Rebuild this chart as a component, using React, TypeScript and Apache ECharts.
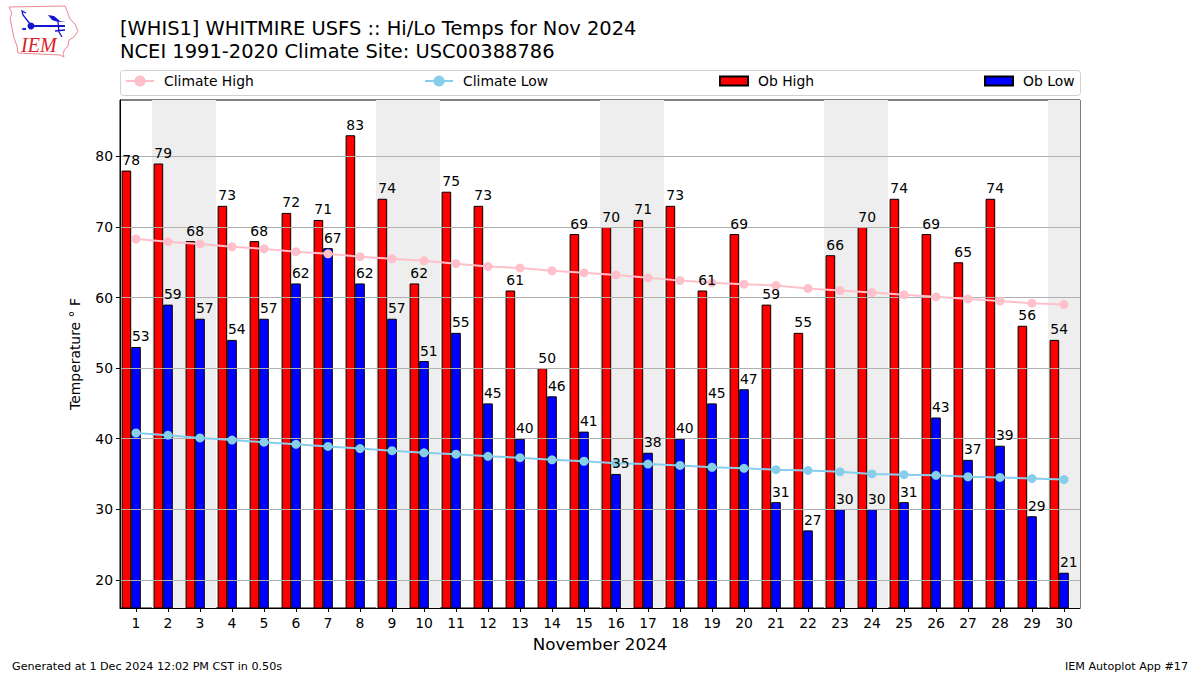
import React, { useEffect, useRef } from "react";
import * as echarts from "echarts";

const days = ["1","2","3","4","5","6","7","8","9","10","11","12","13","14","15","16","17","18","19","20","21","22","23","24","25","26","27","28","29","30"];
const obHigh = [78,79,68,73,68,72,71,83,74,62,75,73,61,50,69,70,71,73,61,69,59,55,66,70,74,69,65,74,56,54];
const obLow = [53,59,57,54,57,62,67,62,57,51,55,45,40,46,41,35,38,40,45,47,31,27,30,30,31,43,37,39,29,21];
const climateHigh = [68.3,67.9,67.6,67.2,66.9,66.5,66.2,65.8,65.5,65.2,64.8,64.4,64.2,63.8,63.5,63.2,62.8,62.4,62.1,61.9,61.7,61.3,61.0,60.7,60.4,60.1,59.8,59.5,59.2,59.0];
const climateLow = [40.8,40.5,40.1,39.8,39.5,39.2,38.9,38.6,38.3,38.0,37.8,37.5,37.3,37.0,36.8,36.5,36.4,36.2,35.95,35.8,35.6,35.5,35.3,35.0,34.9,34.8,34.6,34.5,34.35,34.2];
const weekendDays = [2,3,9,10,16,17,23,24,30];
const yTicks = [20,30,40,50,60,70,80];
const titleText = "[WHIS1] WHITMIRE USFS :: Hi/Lo Temps for Nov 2024\nNCEI 1991-2020 Climate Site: USC00388786";

const FONT = "DejaVu Sans";
const INK = "#000";

const iowa = [[9,7],[65,6],[67,11],[70,19],[75,24],[78,31],[74,37],[69,40],[68,46],[65,49],[63,53],[64,57],[60,55],[18,53],[17,46],[14,38],[12,28],[10,18],[12,13]];
const logo = [
  { type: "polyline", shape: { points: iowa.concat([iowa[0]]) }, style: { stroke: "#e58a92", lineWidth: 1, fill: "none" } },
  { type: "polyline", shape: { points: [[31,26],[65,26]] }, style: { stroke: "#1515d0", lineWidth: 2, fill: "none" } },
  { type: "circle", shape: { cx: 31, cy: 26, r: 3.5 }, style: { fill: "#1515d0" } },
  { type: "polyline", shape: { points: [[30,24],[23,15],[22,11],[26,13]] }, style: { stroke: "#1515d0", lineWidth: 1.3, fill: "none" } },
  { type: "polygon", shape: { points: [[48,15],[54,16],[60,21],[66,21],[58,22],[52,20]] }, style: { fill: "#1515d0" } },
  { type: "polyline", shape: { points: [[58,22],[59,32],[62,37]] }, style: { stroke: "#1515d0", lineWidth: 1.3, fill: "none" } },
  { type: "polyline", shape: { points: [[55,31],[65,30]] }, style: { stroke: "#1515d0", lineWidth: 1.3, fill: "none" } },
  { type: "circle", shape: { cx: 25, cy: 29, r: 1.2 }, style: { fill: "#1515d0" } },
  { type: "circle", shape: { cx: 23, cy: 29, r: 1 }, style: { fill: "#1515d0" } },
  { type: "text", x: 21, y: 35, style: { text: "IEM", fill: "#d8232a", fontFamily: "Liberation Serif", fontStyle: "italic", fontSize: 20 } },
];

export default function App() {
  const ref = useRef<HTMLDivElement>(null);
  useEffect(() => {
    const chart = echarts.init(ref.current!, undefined, { renderer: "svg" });
    const legendText = { fontFamily: FONT, fontSize: 13.9, color: INK, padding: [0, 0, 0, 5] };
    const numberLabel = (offsetX: number) => ({
      show: true,
      position: "top",
      distance: 0,
      offset: [offsetX, -3],
      color: INK,
      opacity: 1,
      fontFamily: FONT,
      fontSize: 13.9,
    });
    chart.setOption({
      animation: false,
      backgroundColor: "#fff",
      title: {
        text: titleText,
        left: 120,
        top: 17.5,
        padding: 0,
        textStyle: { fontFamily: FONT, fontSize: 19.45, fontWeight: "normal", color: INK, lineHeight: 22.5 },
      },
      grid: { left: 120, right: 120, top: 100, bottom: 67, show: true, borderColor: INK, borderWidth: 1, backgroundColor: "#fff" },
      legend: [
        { data: ["Climate High"], left: 125, top: 74, padding: 0, itemWidth: 28, itemHeight: 14, textStyle: legendText },
        { data: ["Climate Low"], left: 424, top: 74, padding: 0, itemWidth: 28, itemHeight: 14, textStyle: legendText },
        { data: [{ name: "Ob High", icon: "rect" }], left: 719, top: 74, padding: 0, itemWidth: 28, itemHeight: 9, textStyle: legendText },
        { data: [{ name: "Ob Low", icon: "rect" }], left: 984, top: 74, padding: 0, itemWidth: 28, itemHeight: 9, textStyle: legendText },
      ],
      xAxis: [
        {
          type: "category",
          data: days,
          name: "November 2024",
          nameLocation: "middle",
          nameGap: 27,
          nameTextStyle: { fontFamily: FONT, fontSize: 16.7, color: INK },
          axisLine: { show: true, lineStyle: { color: INK, width: 1 } },
          axisTick: { show: true, alignWithLabel: true, length: 4, lineStyle: { color: INK } },
          axisLabel: { color: INK, fontFamily: FONT, fontSize: 13.9, margin: 8, interval: 0 },
          splitLine: { show: false },
        },
        { type: "value", min: 0.5, max: 30.5, show: false },
      ],
      yAxis: {
        type: "value",
        min: 16,
        max: 88,
        z: 3,
        name: "Temperature ° F",
        nameLocation: "middle",
        nameGap: 38,
        nameTextStyle: { fontFamily: FONT, fontSize: 13.9, color: INK },
        axisLine: { show: true, lineStyle: { color: INK, width: 1 } },
        axisTick: { show: true, length: 4, lineStyle: { color: INK }, customValues: yTicks },
        axisLabel: { color: INK, fontFamily: FONT, fontSize: 13.9, margin: 7, customValues: yTicks },
        splitLine: { show: true, lineStyle: { color: "#b0b0b0", width: 1 } },
      },
      graphic: [
        { type: "rect", z: 0, shape: { x: 120.5, y: 70.5, width: 960, height: 25, r: 3 }, style: { fill: "#fff", stroke: "#d0d0d0", lineWidth: 1 } },
        { type: "group", x: 0, y: 0, children: logo },
        { type: "text", x: 12, y: 661, style: { text: "Generated at 1 Dec 2024 12:02 PM CST in 0.50s", fontFamily: FONT, fontSize: 11.15, fill: INK } },
        { type: "text", x: 1188, y: 661, style: { text: "IEM Autoplot App #17", fontFamily: FONT, fontSize: 11.15, fill: INK, align: "right" } },
      ],
      series: [
        {
          type: "custom",
          name: "weekend",
          xAxisIndex: 1,
          z: 1,
          silent: true,
          data: weekendDays.map((d) => [d]),
          encode: { x: 0 },
          clip: true,
          renderItem: (params: any, api: any) => {
            const d = api.value(0);
            const a = api.coord([d - 0.5, 88]);
            const b = api.coord([d + 0.5, 16]);
            return { type: "rect", shape: { x: a[0], y: a[1], width: b[0] - a[0], height: b[1] - a[1] }, style: { fill: "#eeeeee" } };
          },
        },
        { type: "bar", name: "Ob High", data: obHigh, barWidth: 9.6, barGap: 0, z: 2, itemStyle: { color: "#ff0000", borderColor: INK, borderWidth: 1 } },
        { type: "bar", name: "Ob Low", data: obLow, barWidth: 9.6, barGap: 0, z: 2, itemStyle: { color: "#0000ff", borderColor: INK, borderWidth: 1 } },
        { type: "bar", name: "spacer", data: [], barWidth: 9.6, barGap: 0, z: 2 },
        { type: "line", name: "Climate High", data: climateHigh, z: 4, symbol: "circle", symbolSize: 9, showAllSymbol: true, lineStyle: { color: "#ffc0cb", width: 2 }, itemStyle: { color: "#ffc0cb" } },
        { type: "line", name: "Climate Low", data: climateLow, z: 4, symbol: "circle", symbolSize: 9, showAllSymbol: true, lineStyle: { color: "#87ceeb", width: 2 }, itemStyle: { color: "#87ceeb" } },
        { type: "scatter", name: "High labels", data: obHigh, z: 6, symbol: "rect", symbolSize: 1, silent: true, itemStyle: { color: "transparent" }, label: numberLabel(-4.8) },
        { type: "scatter", name: "Low labels", data: obLow, z: 6, symbol: "rect", symbolSize: 1, silent: true, itemStyle: { color: "transparent" }, label: numberLabel(4.8) },
      ],
    });
    return () => chart.dispose();
  }, []);
  return <div ref={ref} style={{ position: "absolute", left: 0, top: 0, width: 1200, height: 675 }} />;
}
